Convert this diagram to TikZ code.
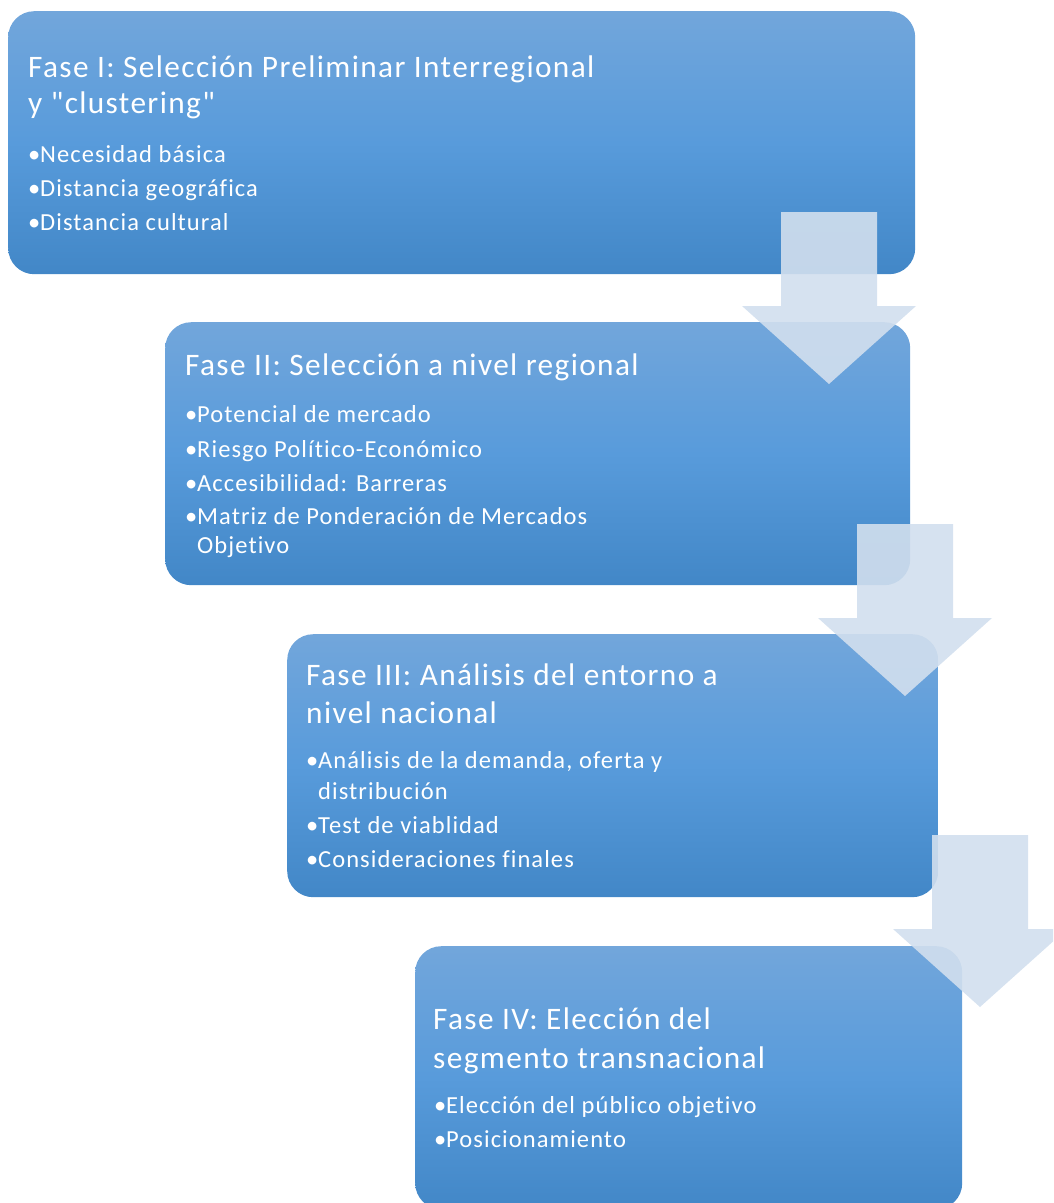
\documentclass[tikz,border=0pt]{standalone}
\usepackage{fontspec}
\setmainfont{Carlito}[Ligatures={TeXOff,NoCommon}, LetterSpace=4.4]
\usepackage{xcolor}
\usepackage{tikz}
\usetikzlibrary{positioning}

\definecolor{fasetop}{RGB}{114,166,219}
\definecolor{fasemid}{RGB}{88,155,219}
\definecolor{fasebot}{RGB}{66,135,199}
\definecolor{flechafill}{RGB}{210,223,238}

\tikzset{
  fase/.style={rectangle, rounded corners=26pt, draw=none, anchor=north west,
    top color=fasetop, bottom color=fasebot, middle color=fasemid},
  titulo/.style={anchor=base west, inner sep=0pt, text=white,
    font=\fontsize{31.3}{37}\selectfont},
  punto/.style={anchor=base west, inner sep=0pt, text=white,
    font=\fontsize{24.5}{29}\selectfont},
  flecha/.style={fill=flechafill, fill opacity=0.9, draw=none}
}
\newcommand{\bala}{\makebox[12pt][l]{•}}

\begin{document}
\begin{tikzpicture}[x=1pt,y=-1pt]
\useasboundingbox (0,0) rectangle (1053,1203);
\clip (0,0) rectangle (1053,1203);

% Fase I
\node[fase, minimum width=907pt, minimum height=263pt] (f1) at (8,11) {};
\node[titulo] (f1t1) at (28,77) {Fase I: Selección Preliminar Interregional};
\node[titulo] (f1t2) at (28,113) {y "clustering"};
\node[punto] (f1p1) at (28,162) {\bala Necesidad básica};
\node[punto] (f1p2) at (28,196) {\bala Distancia geográfica};
\node[punto] (f1p3) at (28,230) {\bala Distancia cultural};

% Fase II
\node[fase, minimum width=745pt, minimum height=263pt] (f2) at (165,322) {};
\node[titulo] (f2t1) at (185,375) {Fase II: Selección a nivel regional};
\node[punto] (f2p1) at (185,422) {\bala Potencial de mercado};
\node[punto] (f2p2) at (185,457) {\bala Riesgo Político-Económico};
\node[punto] (f2p3) at (185,491) {\bala Accesibilidad: Barreras};
\node[punto] (f2p4) at (185,524) {\bala Matriz de Ponderación de Mercados};
\node[punto] (f2p5) at (197,553) {Objetivo};

% Fase III
\node[fase, minimum width=651pt, minimum height=263pt] (f3) at (287,634) {};
\node[titulo] (f3t1) at (306,685) {Fase III: Análisis del entorno a};
\node[titulo] (f3t2) at (306,723) {nivel nacional};
\node[punto] (f3p1) at (306,768) {\bala Análisis de la demanda, oferta y};
\node[punto] (f3p2) at (318,799) {distribución};
\node[punto] (f3p3) at (306,833) {\bala Test de viablidad};
\node[punto] (f3p4) at (306,867) {\bala Consideraciones finales};

% Fase IV
\node[fase, minimum width=547pt, minimum height=263pt] (f4) at (415,946) {};
\node[titulo] (f4t1) at (433,1029) {Fase IV: Elección del};
\node[titulo] (f4t2) at (433,1068) {segmento transnacional};
\node[punto] (f4p1) at (434,1113) {\bala Elección del público objetivo};
\node[punto] (f4p2) at (434,1147) {\bala Posicionamiento};

% flechas entre fases
\foreach \cx/\yt in {829/212, 905/524, 980/835}
  \fill[flecha] (\cx-48,\yt) -- (\cx+48,\yt) -- (\cx+48,\yt+94) -- (\cx+87,\yt+94)
    -- (\cx,\yt+172) -- (\cx-87,\yt+94) -- (\cx-48,\yt+94) -- cycle;
\end{tikzpicture}
\end{document}
